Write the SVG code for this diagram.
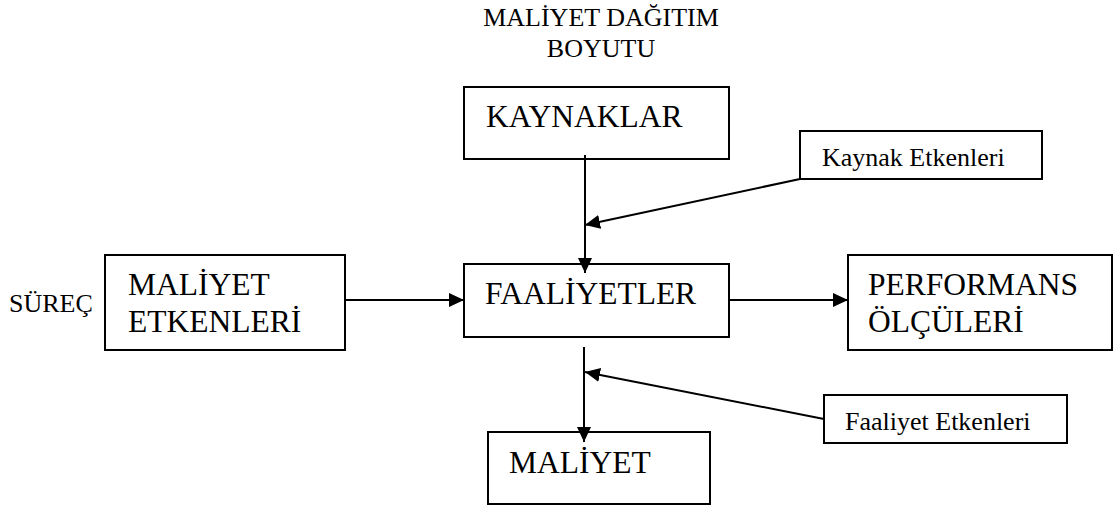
<svg xmlns="http://www.w3.org/2000/svg" width="1117" height="506" viewBox="0 0 1117 506">
<style>
  .box { fill: #fff; stroke: #000; stroke-width: 2; }
  .big { font-family: "Liberation Serif", "Times New Roman", serif; font-size: 31.5px; fill: #000; }
  .small { font-family: "Liberation Serif", "Times New Roman", serif; font-size: 26px; fill: #000; }
  .edge { stroke: #000; stroke-width: 2; fill: none; marker-end: url(#arrow); }
</style>
<defs>
  <marker id="arrow" markerUnits="userSpaceOnUse" markerWidth="16" markerHeight="16" refX="15" refY="7" orient="auto">
    <path d="M0,0 L15,7 L0,14 z" fill="#000"/>
  </marker>
</defs>
<rect width="1117" height="506" fill="#fff"/>
<g id="title">
  <text class="small" x="601" y="26" text-anchor="middle">MALİYET DAĞITIM</text>
  <text class="small" x="601" y="57" text-anchor="middle">BOYUTU</text>
</g>
<g id="surec">
  <text class="small" x="9" y="312">SÜREÇ</text>
</g>
<g id="kaynaklar">
  <rect class="box" x="464" y="87" width="265" height="72"/>
  <text class="big" x="486" y="127">KAYNAKLAR</text>
</g>
<g id="kaynak-etkenleri">
  <rect class="box" x="800" y="131" width="242" height="48"/>
  <text class="small" x="822" y="166">Kaynak Etkenleri</text>
</g>
<g id="maliyet-etkenleri">
  <rect class="box" x="105" y="255" width="240" height="95"/>
  <text class="big" x="128" y="295">MALİYET</text>
  <text class="big" x="128" y="332">ETKENLERİ</text>
</g>
<g id="faaliyetler">
  <rect class="box" x="464" y="264" width="265" height="73"/>
  <text class="big" x="485" y="304">FAALİYETLER</text>
</g>
<g id="performans">
  <rect class="box" x="848" y="255" width="264" height="95"/>
  <text class="big" x="868" y="295">PERFORMANS</text>
  <text class="big" x="868" y="332">ÖLÇÜLERİ</text>
</g>
<g id="faaliyet-etkenleri">
  <rect class="box" x="824" y="395" width="243" height="48"/>
  <text class="small" x="845" y="430">Faaliyet Etkenleri</text>
</g>
<g id="maliyet">
  <rect class="box" x="488" y="432" width="222" height="72"/>
  <text class="big" x="509" y="473">MALİYET</text>
</g>
<g id="connectors">
  <line class="edge" x1="585" y1="155" x2="585" y2="273"/>
  <line class="edge" x1="800" y1="179" x2="585" y2="225"/>
  <line class="edge" x1="345" y1="300" x2="464" y2="300"/>
  <line class="edge" x1="729" y1="300" x2="848" y2="300"/>
  <line class="edge" x1="584" y1="347" x2="584" y2="442"/>
  <line class="edge" x1="824" y1="419" x2="585" y2="372"/>
</g>
</svg>
